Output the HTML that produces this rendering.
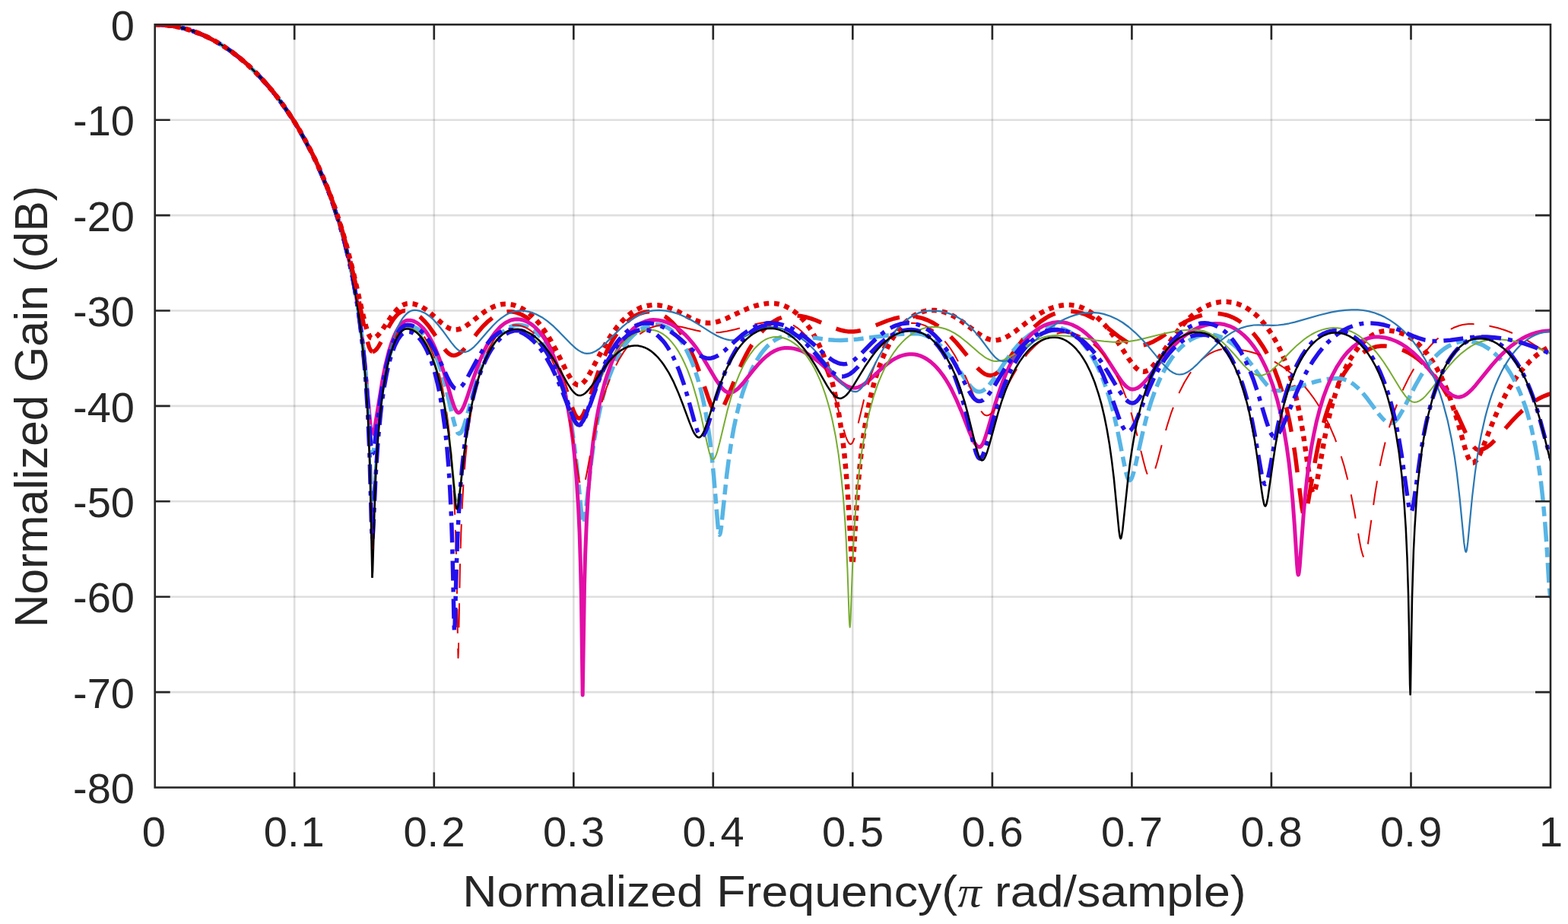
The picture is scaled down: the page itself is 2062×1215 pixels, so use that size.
<!DOCTYPE html>
<html><head><meta charset="utf-8"><title>Normalized Gain vs Normalized Frequency</title>
<style>
html,body{margin:0;padding:0;background:#fff;width:2062px;height:1215px;overflow:hidden}
svg{display:block}
text{font-family:"Liberation Sans",Arial,Helvetica,sans-serif;fill:#262626}
</style></head><body>
<svg width="2062" height="1215" viewBox="0 0 2062 1215">
<rect x="0" y="0" width="2062" height="1215" fill="#fff"/>
<defs><clipPath id="ax"><rect x="203.7" y="32.3" width="1835.3" height="1003.2"/></clipPath></defs>
<g clip-path="url(#ax)">
<path d="M387.2 32.3V1035.5M570.8 32.3V1035.5M754.3 32.3V1035.5M937.8 32.3V1035.5M1121.3 32.3V1035.5M1304.9 32.3V1035.5M1488.4 32.3V1035.5M1671.9 32.3V1035.5M1855.5 32.3V1035.5" stroke="#262626" stroke-opacity="0.15" stroke-width="2.6" fill="none"/>
<path d="M203.7 157.7H2039.0M203.7 283.1H2039.0M203.7 408.5H2039.0M203.7 533.9H2039.0M203.7 659.3H2039.0M203.7 784.7H2039.0M203.7 910.1H2039.0" stroke="#262626" stroke-opacity="0.15" stroke-width="2.6" fill="none"/>
<g fill="none" stroke-linejoin="round">
<path stroke="#e30000" stroke-width="6.5" stroke-dasharray="6.8 6.8" stroke-dashoffset="538.3" d="M489.5 444.9L491.8 444.5L494.0 443.4L496.0 441.8L498.4 439.3L502.9 433.4L514.3 416.5L518.6 411.0L521.7 407.5L524.7 404.7L528.3 402.0L531.5 400.4L534.2 399.5L538.4 399.0L544.0 399.6L549.1 401.1L554.4 403.5L559.4 406.5L564.6 410.4L580.2 424.3L586.6 429.3L589.8 431.2L592.6 432.5L595.3 433.3L598.3 433.6L601.8 433.3L605.1 432.5L608.6 431.0L611.8 429.2L618.2 424.8L630.6 414.9L637.0 410.1L643.2 406.2L648.9 403.3L654.8 401.2L661.1 399.9L667.5 399.8L673.8 400.7L677.8 401.8L682.5 403.6L686.8 405.8L691.3 408.7L696.2 412.4L700.2 415.9L704.4 420.1L708.6 424.9L716.0 434.7L720.2 441.1L724.4 448.0L731.4 460.9L745.5 489.2L750.5 497.9L753.6 502.0L756.1 504.5L758.7 506.0L761.1 506.3L763.6 505.7L766.1 504.0L768.8 501.4L771.9 497.2L777.0 488.6L790.3 463.3L797.3 450.9L804.5 439.4L811.9 429.4L819.3 421.0L823.5 417.0L827.5 413.6L831.4 410.7L835.2 408.3L839.6 405.9L843.7 404.1L850.8 402.0L857.5 401.1L865.0 401.2L872.6 402.4L879.6 404.5L886.6 407.3L893.9 410.8L908.5 418.4L916.0 421.7L920.1 423.1L923.6 424.0L927.5 424.6L931.2 424.8L935.3 424.6L939.2 424.0L943.3 423.1L948.1 421.6L956.4 418.2L975.1 409.3L983.5 405.6L992.4 402.4L1000.3 400.4L1004.8 399.6L1009.6 399.0L1014.4 398.8L1018.3 399.0L1021.8 399.4L1025.9 400.3L1030.1 401.6L1033.9 403.2L1039.0 405.9L1043.6 409.0L1048.4 412.8L1052.4 416.5L1056.4 420.8L1060.6 425.9L1064.8 431.6L1069.0 438.2L1073.2 445.6L1076.3 451.8L1080.5 460.9L1083.5 468.4L1089.5 485.4L1095.1 505.3L1099.5 524.3L1103.5 546.1L1107.3 570.9L1110.0 593.3L1111.8 611.7L1114.1 638.3L1116.4 674.2L1119.5 729.1L1120.3 739.2L1120.6 741.1L1121.0 742.1L1121.4 741.2L1121.7 739.5L1122.5 730.3L1126.1 671.6L1128.6 636.9L1130.3 617.4L1132.8 593.5L1136.4 566.8L1140.3 543.4L1144.5 522.9L1149.1 504.9L1154.9 486.2L1157.9 477.9L1161.9 467.9L1165.1 461.0L1169.2 452.8L1172.4 447.2L1176.6 440.6L1180.8 434.8L1185.0 429.7L1189.1 425.3L1194.0 420.8L1198.8 417.1L1203.3 414.2L1208.3 411.7L1213.5 409.8L1217.3 408.8L1221.3 408.1L1225.1 407.9L1229.0 408.0L1233.6 408.5L1237.6 409.3L1241.6 410.3L1245.9 411.9L1253.6 415.5L1261.8 420.5L1269.2 425.7L1284.5 437.3L1292.6 442.6L1297.2 444.9L1301.2 446.4L1305.2 447.2L1309.1 447.4L1313.2 446.9L1317.5 445.7L1321.6 444.1L1326.3 441.6L1334.2 436.3L1352.3 422.4L1360.8 416.5L1370.1 410.8L1375.1 408.2L1379.8 406.1L1385.1 404.2L1390.0 402.8L1394.9 401.8L1399.4 401.2L1404.2 401.0L1408.5 401.1L1412.9 401.7L1417.4 402.7L1421.1 403.9L1425.2 405.5L1432.4 409.4L1436.2 412.0L1440.2 415.0L1447.4 421.5L1454.8 429.4L1463.2 440.1L1470.3 450.3L1484.2 471.6L1490.5 480.0L1493.8 483.7L1497.3 486.6L1500.4 488.2L1502.0 488.6L1503.8 488.8L1506.6 488.3L1509.5 487.0L1512.8 484.6L1515.9 481.5L1518.8 478.2L1522.6 473.1L1541.0 445.8L1547.2 437.3L1552.4 430.7L1558.7 423.5L1565.0 417.2L1571.2 411.9L1577.2 407.6L1584.8 403.2L1591.7 400.2L1598.4 398.2L1605.7 396.9L1612.8 396.8L1619.6 397.5L1626.8 399.3L1633.9 402.1L1638.2 404.4L1641.9 406.6L1649.6 412.4L1653.7 416.0L1657.8 420.2L1665.1 428.9L1672.5 439.5L1678.8 450.4L1685.0 463.1L1691.0 477.6L1695.7 491.4L1699.4 503.4L1703.8 520.0L1707.1 534.3L1710.1 549.7L1713.7 570.0L1723.6 637.5L1725.4 645.5L1726.2 647.4L1727.0 648.0L1727.6 647.8L1728.1 647.1L1729.2 644.8L1731.5 635.8L1741.8 577.0L1744.9 561.3L1748.3 546.3L1750.9 535.7L1754.7 522.6L1757.5 513.5L1761.5 502.3L1765.6 492.2L1770.8 481.1L1776.1 471.5L1781.4 463.4L1786.6 456.5L1792.7 449.9L1798.5 444.9L1804.8 440.6L1808.9 438.5L1813.3 436.8L1817.7 435.6L1821.9 435.0L1826.4 434.8L1831.4 435.2L1836.4 436.2L1841.3 437.6L1846.0 439.4L1850.2 441.5L1854.8 444.2L1859.6 447.6L1864.6 451.8L1868.6 455.8L1872.8 460.3L1877.0 465.4L1883.3 474.3L1889.7 484.7L1895.8 496.6L1901.8 510.2L1907.5 525.1L1912.9 541.3L1917.9 557.9L1926.2 587.9L1929.0 596.9L1931.0 602.1L1933.0 606.1L1934.5 607.9L1935.4 608.5L1936.2 608.6L1937.4 608.5L1938.5 608.0L1940.8 606.0L1943.3 602.6L1945.7 598.0L1950.4 587.4L1961.3 559.6L1967.2 545.4L1973.6 531.4L1980.3 518.3L1985.2 509.7L1991.3 500.0L1997.6 491.3L2003.9 483.6L2012.3 474.6L2020.6 467.2L2029.7 460.6L2038.4 455.5L2047.3 451.5L2056.7 448.5L2066.2 446.7L2075.7 446.1"/>
<path stroke="#e30000" stroke-width="5.5" stroke-dasharray="33 21" stroke-dashoffset="555.3" d="M489.8 462.4L491.5 462.1L493.5 460.8L495.5 458.8L497.8 455.5L501.3 449.2L511.6 429.0L514.8 423.6L517.9 419.0L520.9 415.4L524.5 411.9L527.7 409.9L530.2 408.9L532.7 408.5L535.5 408.6L538.4 409.1L541.6 410.0L544.7 411.4L547.3 412.8L552.9 417.0L559.1 423.2L564.4 429.6L569.7 437.1L580.7 453.7L585.9 460.7L588.8 463.8L591.4 465.8L593.9 467.0L596.3 467.4L599.4 467.0L602.4 465.8L605.6 463.7L608.5 461.1L614.5 454.5L628.4 436.9L634.7 429.5L642.1 422.3L649.0 416.8L652.7 414.5L657.0 412.5L660.7 411.1L664.5 410.2L668.4 409.8L672.2 409.8L676.2 410.3L680.4 411.4L685.6 413.5L690.7 416.3L695.3 419.5L700.2 423.8L705.2 429.1L709.4 434.3L713.6 440.2L717.9 447.0L722.1 454.7L726.3 463.1L733.3 479.7L739.0 495.3L750.4 530.0L754.2 540.4L756.3 545.0L758.1 547.9L760.2 549.8L761.0 550.1L762.1 550.2L763.6 549.4L765.5 547.5L767.3 544.4L769.5 539.5L773.4 528.9L785.8 491.8L790.5 479.1L794.5 469.5L798.6 460.7L802.8 452.5L807.0 445.2L811.2 438.7L816.5 431.8L822.6 425.0L828.5 419.7L834.8 415.4L841.3 412.3L847.2 410.5L850.7 410.0L853.7 409.8L857.0 409.8L860.0 410.2L864.8 411.4L870.0 413.5L875.1 416.5L879.7 420.0L884.7 424.5L888.7 429.0L894.0 435.8L898.2 442.1L902.4 449.3L906.6 457.4L913.8 473.4L919.6 488.6L931.3 522.7L935.2 533.0L937.5 537.5L939.3 540.4L941.1 542.1L942.1 542.6L943.1 542.7L945.1 542.1L947.4 540.2L949.8 537.0L952.1 533.0L956.8 522.6L969.4 491.6L976.1 476.5L980.2 468.4L984.3 460.8L988.5 453.9L993.8 446.1L998.0 440.6L1003.2 434.6L1008.3 429.6L1013.2 425.6L1018.8 421.8L1023.9 419.0L1029.3 416.9L1034.5 415.5L1039.9 414.8L1046.1 414.9L1052.6 415.5L1059.9 417.0L1066.5 418.8L1072.5 421.0L1094.5 430.2L1102.1 433.0L1106.3 434.3L1110.7 435.3L1114.9 435.9L1118.8 436.1L1122.8 436.0L1127.0 435.5L1131.2 434.8L1136.1 433.5L1144.5 430.6L1167.5 421.5L1175.5 419.0L1182.6 417.4L1190.3 416.3L1198.4 416.1L1205.3 416.7L1212.7 418.4L1220.1 421.1L1227.5 424.8L1234.4 429.2L1241.6 434.8L1249.0 441.5L1257.5 450.4L1264.7 458.9L1279.9 477.7L1287.2 485.6L1291.4 489.3L1295.0 491.7L1298.7 493.2L1302.5 493.8L1306.0 493.2L1309.2 491.7L1312.6 489.1L1316.8 485.0L1323.1 477.0L1338.1 455.9L1345.3 446.3L1353.7 436.4L1361.1 429.0L1368.3 422.9L1376.2 417.6L1379.9 415.5L1384.3 413.4L1392.1 410.8L1396.6 409.8L1401.0 409.3L1405.5 409.1L1410.1 409.4L1414.6 410.0L1419.6 411.0L1424.5 412.5L1429.0 414.2L1437.7 418.5L1447.0 424.2L1455.5 430.3L1472.6 443.6L1480.5 448.9L1485.1 451.4L1489.1 453.0L1493.3 454.0L1497.3 454.4L1501.9 454.1L1506.6 453.2L1511.3 451.6L1516.7 449.2L1525.6 444.1L1544.9 431.4L1553.3 426.2L1562.6 421.2L1571.4 417.4L1581.0 414.4L1590.1 412.8L1594.6 412.4L1599.3 412.3L1603.5 412.5L1607.5 413.1L1612.5 414.2L1617.7 415.9L1622.6 418.1L1627.1 420.5L1631.7 423.5L1636.6 427.1L1641.6 431.6L1645.8 435.8L1649.9 440.5L1654.2 445.9L1661.6 456.9L1665.8 464.2L1668.9 470.2L1673.0 478.9L1676.0 486.0L1681.9 501.8L1686.5 516.6L1691.8 536.6L1695.9 555.2L1699.7 575.6L1703.1 597.4L1712.0 667.0L1713.7 675.7L1714.5 677.6L1715.1 678.1L1715.6 677.9L1716.1 677.3L1717.2 674.9L1719.3 666.1L1729.2 607.5L1733.0 587.8L1736.3 572.9L1739.8 558.9L1743.5 546.0L1747.4 534.2L1751.4 523.4L1756.5 511.4L1761.7 500.9L1767.0 491.8L1773.3 482.5L1779.6 475.0L1786.6 468.2L1793.3 463.2L1800.2 459.3L1804.1 457.6L1808.3 456.3L1812.3 455.4L1816.2 455.0L1820.7 454.9L1825.8 455.3L1830.7 456.0L1835.3 457.0L1839.8 458.3L1844.7 460.2L1849.1 462.2L1853.7 464.6L1858.5 467.6L1862.5 470.4L1867.6 474.4L1871.7 478.0L1878.0 484.3L1884.4 491.5L1890.6 499.8L1896.9 508.9L1903.9 520.7L1910.6 533.4L1917.0 546.5L1928.1 570.7L1932.7 579.8L1935.6 584.5L1938.6 588.3L1941.0 590.4L1943.4 591.5L1945.1 591.6L1947.3 591.3L1951.5 590.0L1955.5 587.8L1960.3 584.2L1964.1 580.6L1968.3 576.3L1987.3 554.7L1996.7 544.9L2002.0 539.9L2007.2 535.4L2016.5 528.5L2021.5 525.4L2026.4 522.8L2031.8 520.3L2036.9 518.4L2042.3 516.9L2046.9 516.0L2052.2 515.3L2057.4 515.1"/>
<path stroke="#57b5e6" stroke-width="5.5" stroke-dasharray="26 7.5 13 7.5" stroke-dashoffset="686.4" d="M489.5 596.6L490.3 595.7L491.0 594.0L492.8 584.7L500.0 530.4L503.7 506.9L507.8 486.3L512.0 469.3L514.1 462.2L517.3 453.1L520.4 445.8L523.4 440.2L526.3 435.9L529.7 432.2L533.2 429.7L534.9 429.0L536.9 428.6L541.0 428.9L545.6 430.3L549.3 432.5L553.6 435.9L558.4 441.1L562.4 446.7L566.5 453.8L569.7 460.1L572.9 467.4L576.0 475.5L579.1 484.6L582.2 494.5L587.0 512.4L595.9 550.7L599.0 562.1L601.4 568.1L602.4 569.6L603.7 570.3L605.2 569.7L606.6 568.1L608.4 564.7L610.0 560.6L613.1 550.3L621.0 521.2L625.6 505.4L630.5 490.5L634.6 479.6L638.8 469.9L644.1 459.3L649.4 450.5L654.6 443.5L657.6 440.1L661.5 436.3L664.2 434.1L667.7 431.7L671.6 429.7L675.0 428.4L678.3 427.6L681.8 427.3L685.7 427.5L689.1 428.2L693.0 429.4L696.7 431.2L700.0 433.2L703.5 435.9L707.3 439.3L710.2 442.4L715.3 448.8L720.5 456.8L725.8 466.7L730.0 476.1L734.2 487.0L738.2 499.4L742.2 513.4L745.0 525.2L747.7 538.0L750.3 552.0L754.3 577.9L758.5 612.6L764.6 675.2L765.8 684.4L766.5 687.2L767.1 688.1L767.7 687.6L768.3 685.9L769.7 677.5L775.4 625.5L777.9 604.3L781.4 578.9L785.4 555.7L789.7 535.1L792.4 523.9L795.2 513.5L798.2 504.0L801.2 495.2L807.3 479.7L810.5 473.0L814.7 464.9L818.9 457.9L823.1 451.8L827.2 446.6L832.3 441.2L837.1 436.9L841.7 433.6L846.7 430.7L851.9 428.6L856.8 427.3L861.9 426.7L866.3 426.9L870.8 427.8L875.6 429.7L879.6 431.9L883.1 434.5L885.9 436.9L891.7 443.2L894.7 447.2L897.9 451.8L903.1 461.0L908.4 472.2L912.6 482.8L917.7 498.4L921.6 512.9L925.4 529.4L928.1 543.1L931.4 563.5L933.8 580.4L935.9 598.6L938.5 624.6L944.2 692.7L945.2 700.9L945.6 702.5L946.1 703.2L946.7 702.5L947.3 700.5L948.4 693.7L955.8 623.8L958.6 602.3L961.6 582.2L964.8 563.8L968.3 547.1L972.0 532.1L976.9 515.5L982.0 501.2L985.1 493.6L988.2 486.6L994.5 474.7L1000.8 465.1L1003.9 461.1L1007.9 456.5L1010.9 453.6L1014.7 450.4L1018.3 447.7L1022.5 445.3L1026.3 443.5L1030.3 442.2L1033.6 441.5L1037.3 441.1L1048.4 441.4L1059.9 442.6L1088.4 446.6L1097.5 447.3L1105.8 447.4L1116.7 447.0L1128.2 446.0L1168.1 440.9L1185.6 439.2L1195.5 438.7L1204.8 438.6L1209.2 439.0L1213.4 439.9L1219.3 442.0L1225.5 445.4L1232.2 450.3L1238.4 456.0L1244.7 463.1L1251.1 471.3L1257.3 480.3L1269.7 499.3L1275.4 507.0L1278.9 510.8L1281.8 513.2L1285.0 514.7L1287.8 515.1L1290.6 514.6L1293.6 513.1L1296.4 511.0L1299.7 507.7L1305.9 499.7L1322.7 474.4L1332.0 461.7L1337.3 455.4L1342.6 449.9L1347.7 445.1L1352.8 441.1L1358.5 437.2L1364.7 434.0L1370.3 431.9L1376.2 430.5L1382.1 429.8L1388.1 430.1L1394.0 431.1L1399.6 433.0L1406.2 436.3L1412.6 440.7L1418.5 445.8L1424.7 452.4L1430.9 460.6L1436.2 468.8L1441.5 478.4L1446.7 489.4L1450.7 499.3L1454.7 510.1L1458.5 521.9L1462.2 534.7L1465.6 548.3L1469.6 566.2L1480.2 619.2L1481.6 624.3L1483.0 628.7L1484.1 630.8L1484.8 631.5L1485.5 631.7L1486.2 631.5L1486.8 631.0L1488.2 628.7L1489.7 624.7L1491.1 620.2L1493.7 609.3L1503.4 565.7L1507.6 549.3L1511.1 536.8L1513.9 527.9L1517.8 516.8L1521.8 506.6L1525.9 497.2L1531.1 486.8L1536.4 477.7L1541.6 469.8L1547.9 461.9L1554.1 455.6L1559.9 450.6L1566.4 446.3L1573.0 443.1L1578.7 441.2L1583.7 440.2L1589.3 439.9L1594.8 440.2L1600.2 441.3L1605.5 443.1L1610.6 445.5L1616.3 448.9L1621.2 452.5L1626.4 457.0L1630.6 461.1L1635.9 467.0L1644.3 477.5L1659.8 498.6L1665.5 505.6L1668.5 508.5L1671.1 510.7L1673.9 512.4L1676.1 513.4L1678.8 513.8L1683.7 513.7L1689.0 513.2L1695.2 512.1L1705.3 509.5L1731.3 501.5L1739.0 499.7L1745.9 498.5L1753.9 497.7L1760.9 497.6L1766.2 498.4L1771.3 500.1L1775.6 502.3L1780.3 505.5L1785.3 509.8L1789.5 513.9L1793.7 518.8L1798.0 524.1L1813.0 544.4L1818.8 551.0L1821.6 553.5L1824.1 555.1L1826.5 556.1L1829.1 556.5L1831.4 556.1L1834.1 554.5L1836.7 551.9L1839.7 547.9L1845.4 538.0L1860.6 508.2L1868.6 494.0L1873.9 485.9L1878.1 480.0L1883.3 473.5L1888.5 467.8L1893.6 463.0L1899.5 458.4L1905.1 454.9L1911.0 452.1L1916.9 450.1L1923.1 448.9L1929.0 448.6L1935.1 449.2L1940.5 450.3L1946.3 452.3L1951.3 454.6L1956.6 457.8L1962.4 462.0L1967.3 466.4L1972.5 471.7L1976.6 476.7L1981.9 483.9L1986.1 490.5L1990.3 497.9L1994.5 506.1L1998.6 515.3L2001.6 522.9L2005.6 533.9L2008.5 542.9L2013.9 563.0L2019.0 586.4L2022.9 608.8L2026.5 634.1L2029.0 656.8L2031.8 688.0L2033.8 714.7L2037.0 767.7L2038.4 782.6L2038.9 784.7L2039.6 784.8L2040.6 785.4L2042.1 787.3L2043.9 791.3L2044.9 794.3L2048.2 807.5L2054.3 839.9L2055.7 845.2L2056.8 847.1L2057.4 847.4"/>
<path stroke="#e20ea6" stroke-width="5.0" d="M489.5 571.5L490.3 570.9L491.0 569.5L492.8 562.4L503.0 499.6L507.0 479.6L511.2 462.6L515.5 449.1L517.6 443.6L520.7 436.7L523.7 431.4L526.5 427.5L529.0 424.8L532.0 422.5L533.8 421.7L535.7 421.2L539.6 421.2L542.0 421.7L544.5 422.5L549.0 424.9L553.3 428.4L557.1 432.3L561.2 437.6L565.3 444.1L569.6 452.1L572.8 459.1L576.0 466.9L579.1 475.4L584.1 490.7L593.6 523.7L597.0 534.0L598.7 538.1L600.2 540.6L601.7 542.2L602.9 542.7L603.8 542.6L604.8 542.1L606.7 540.1L608.7 536.7L610.5 532.9L613.9 523.7L622.2 498.5L627.0 484.8L632.0 471.9L637.2 460.3L641.4 452.1L646.7 443.4L651.9 436.3L656.8 430.8L659.7 428.2L663.3 425.4L666.6 423.4L669.6 421.9L672.9 420.7L676.5 420.0L679.9 419.8L683.5 420.0L687.1 420.7L690.3 421.8L694.0 423.5L697.3 425.4L700.8 427.9L703.6 430.3L707.4 434.2L710.5 437.7L714.6 443.2L717.7 448.0L721.9 455.5L725.1 461.9L728.3 469.1L731.4 477.1L736.6 492.4L741.5 510.5L746.1 531.9L750.4 557.1L753.6 580.7L756.4 608.0L758.3 631.5L760.6 668.0L762.1 700.4L763.3 738.3L764.4 783.5L766.2 913.9L768.5 769.9L769.6 730.2L771.4 686.0L773.5 649.5L776.6 611.5L780.1 580.0L784.1 553.4L786.7 539.3L789.4 526.5L792.2 514.8L795.0 504.1L798.0 494.3L802.1 482.7L805.2 474.8L809.4 465.5L813.6 457.3L817.9 450.3L822.1 444.2L827.2 437.9L832.2 432.8L837.8 428.3L842.9 425.1L848.3 422.7L853.8 421.1L859.2 420.5L865.4 420.9L871.8 422.1L877.9 424.2L883.9 427.1L889.6 430.6L895.5 435.1L900.7 439.8L905.9 445.3L911.2 451.6L916.5 458.6L924.8 471.1L941.4 499.0L947.5 507.9L950.7 511.7L953.4 514.1L956.1 515.7L958.4 516.3L961.4 516.1L964.6 515.1L967.6 513.2L971.3 510.2L977.2 503.8L990.0 487.5L996.4 479.9L1002.7 473.1L1007.9 468.5L1012.9 464.7L1018.4 461.5L1023.3 459.4L1028.7 457.9L1032.0 457.5L1035.8 457.4L1040.0 457.7L1044.2 458.4L1048.5 459.5L1052.6 460.8L1057.0 462.7L1060.8 464.7L1068.9 469.7L1077.3 476.2L1084.7 482.9L1100.7 498.1L1107.7 503.9L1111.5 506.4L1115.5 508.4L1118.7 509.5L1122.2 510.0L1125.7 509.9L1129.0 509.1L1132.9 507.3L1136.7 505.0L1143.8 499.2L1158.0 485.9L1165.4 479.5L1172.6 474.2L1176.5 471.8L1180.3 469.9L1183.7 468.4L1187.7 467.1L1191.6 466.2L1195.6 465.8L1199.3 465.7L1203.0 466.0L1206.9 466.8L1210.3 467.9L1215.0 470.0L1219.3 472.5L1224.0 475.9L1227.9 479.3L1232.0 483.5L1236.2 488.4L1240.4 494.0L1243.6 498.8L1247.8 505.8L1251.0 511.5L1258.1 526.4L1264.0 540.2L1275.0 568.5L1279.2 577.9L1281.5 582.3L1284.0 585.6L1285.9 587.2L1288.0 587.8L1289.5 587.3L1291.1 585.6L1292.7 582.9L1294.6 578.4L1298.6 566.1L1309.1 530.0L1315.4 510.9L1319.2 500.6L1323.1 491.0L1327.2 482.0L1331.3 473.7L1335.5 466.2L1340.8 457.9L1345.1 452.1L1350.3 445.7L1355.5 440.4L1361.4 435.3L1367.1 431.3L1372.3 428.4L1378.6 425.9L1385.0 424.2L1391.3 423.6L1397.6 423.8L1403.9 425.0L1409.9 427.0L1415.9 429.9L1422.5 434.0L1428.5 438.7L1433.6 443.5L1438.9 449.0L1444.1 455.4L1452.5 466.8L1470.4 494.7L1474.4 500.5L1477.3 504.2L1480.6 507.7L1483.4 509.9L1486.4 511.5L1489.3 512.0L1492.6 511.5L1496.0 510.1L1499.3 507.9L1503.2 504.4L1510.1 496.6L1529.7 470.6L1540.1 458.2L1546.4 451.6L1551.7 446.6L1557.9 441.5L1564.0 437.2L1570.8 433.2L1577.0 430.3L1584.3 427.8L1591.0 426.3L1597.8 425.6L1604.5 425.8L1610.7 426.8L1617.0 428.8L1621.8 431.0L1626.2 433.6L1630.9 436.8L1635.7 440.9L1640.8 445.9L1644.9 450.7L1649.1 456.1L1653.3 462.3L1657.6 469.4L1660.7 475.3L1664.9 483.9L1668.0 491.0L1674.0 507.2L1679.7 526.0L1684.2 544.1L1688.4 564.7L1692.2 588.0L1695.1 609.0L1697.6 632.1L1699.9 657.4L1702.4 691.0L1705.6 742.2L1706.5 752.4L1707.0 755.2L1707.4 755.9L1707.7 755.3L1708.2 753.0L1709.2 744.4L1714.5 672.6L1716.8 647.7L1718.7 630.1L1721.4 608.5L1724.4 588.9L1727.7 571.2L1731.1 555.2L1735.7 537.4L1740.5 521.8L1745.6 508.2L1751.8 494.1L1758.1 482.3L1764.4 472.6L1767.5 468.4L1771.7 463.4L1778.7 456.5L1785.3 451.4L1792.2 447.4L1798.9 444.8L1805.7 443.3L1809.3 443.0L1813.2 443.0L1821.2 443.9L1829.0 446.0L1836.7 449.0L1843.3 452.5L1850.3 457.2L1857.5 462.9L1863.8 468.8L1870.2 475.4L1876.4 482.5L1897.3 508.3L1901.3 512.7L1904.9 516.2L1908.7 519.1L1912.0 520.9L1915.5 522.0L1919.0 522.2L1922.3 521.5L1925.5 520.2L1928.8 518.1L1932.7 514.8L1936.4 511.2L1940.3 506.8L1961.7 480.4L1967.9 473.4L1974.2 466.7L1981.6 459.7L1987.9 454.4L1994.1 449.9L2001.1 445.5L2007.8 442.0L2014.9 439.1L2021.3 437.1L2028.0 435.7L2036.0 434.9L2046.4 434.7L2066.5 433.8L2075.7 433.6"/>
<path stroke="#e30000" stroke-width="2.0" stroke-dasharray="32 20" stroke-dashoffset="811.5" d="M489.5 722.0L489.9 719.9L490.3 712.1L493.5 632.4L496.3 584.1L497.8 563.2L499.6 544.6L501.4 527.9L504.3 506.2L507.4 488.2L510.5 473.2L513.7 461.0L518.0 448.5L522.1 439.6L525.8 433.8L528.3 430.9L530.5 429.1L532.4 428.1L534.7 427.4L538.3 427.5L542.5 428.6L546.0 430.5L550.1 433.6L553.8 437.3L557.7 442.4L561.8 449.0L564.9 455.1L568.1 462.4L571.3 470.8L574.5 480.6L576.6 487.9L579.7 500.1L581.7 509.2L584.6 524.4L586.5 535.7L590.0 561.4L592.4 583.9L595.2 619.4L597.1 651.2L598.7 688.7L600.1 733.5L601.1 786.1L602.1 850.1L602.5 865.0L602.9 855.5L605.0 742.2L606.3 700.9L607.8 665.7L609.5 635.5L612.2 601.2L615.2 572.4L616.8 559.7L619.4 542.3L624.0 517.5L628.9 497.0L632.0 486.4L635.1 477.1L638.3 468.8L641.4 461.5L644.6 455.2L648.8 448.1L651.8 443.6L655.7 438.8L659.4 435.1L663.7 431.7L667.5 429.6L671.9 428.0L675.4 427.4L679.0 427.4L682.7 427.8L686.8 428.9L690.3 430.2L694.3 432.3L697.7 434.6L701.4 437.5L705.3 441.2L708.2 444.5L714.4 452.6L720.7 463.0L723.9 469.2L727.0 476.0L732.2 488.9L736.3 500.7L741.1 517.5L744.8 532.5L748.2 548.8L751.5 566.2L761.7 631.4L763.5 639.0L764.5 641.2L765.3 641.7L766.3 641.1L767.3 639.5L768.6 635.8L769.8 631.3L772.1 620.0L778.1 587.3L781.7 569.0L785.7 551.2L789.1 537.7L792.7 525.1L797.4 510.5L802.3 497.4L807.4 485.8L813.6 473.6L820.0 463.2L826.3 454.5L833.5 446.4L837.6 442.6L841.5 439.3L845.3 436.6L848.9 434.3L852.4 432.4L856.4 430.7L860.8 429.2L864.6 428.2L869.1 427.5L873.3 427.3L879.1 427.5L885.6 428.1L896.8 430.0L915.6 434.5L922.4 435.9L930.4 437.0L937.8 437.3L946.9 436.9L956.1 435.5L966.4 433.2L986.2 427.9L995.5 425.7L1004.9 423.9L1014.3 422.7L1024.5 422.3L1030.8 422.9L1034.4 423.8L1037.9 425.0L1044.4 428.3L1048.9 431.3L1053.7 435.3L1058.8 440.3L1062.9 445.2L1067.1 450.8L1071.3 457.3L1075.6 464.7L1079.8 473.0L1083.9 482.2L1086.9 489.6L1093.7 508.8L1099.1 526.6L1108.9 563.0L1112.4 574.5L1113.9 578.3L1115.6 581.6L1117.2 583.5L1118.5 584.1L1119.3 583.9L1120.0 583.4L1121.3 581.6L1122.5 578.9L1124.0 574.7L1126.9 564.0L1136.0 525.9L1140.6 509.1L1146.4 490.4L1149.5 482.0L1153.6 471.8L1156.8 464.9L1161.0 456.8L1165.2 449.8L1169.4 443.9L1173.5 439.0L1178.3 434.2L1182.8 430.7L1187.7 427.8L1190.6 426.6L1193.8 425.6L1199.4 424.8L1202.8 424.9L1206.3 425.3L1213.0 426.9L1216.8 428.3L1220.1 429.9L1226.4 433.7L1233.3 439.1L1239.4 445.1L1244.7 451.3L1250.0 458.5L1255.3 466.8L1260.5 476.0L1268.5 492.3L1283.3 526.8L1286.2 533.1L1288.7 538.0L1291.0 541.7L1293.4 544.5L1295.3 545.8L1297.4 546.4L1299.6 546.1L1302.2 544.7L1304.7 542.4L1307.6 538.8L1313.2 529.8L1328.9 499.6L1333.9 490.7L1339.0 482.3L1345.2 473.1L1350.5 466.2L1355.8 460.2L1362.0 454.1L1368.0 449.1L1374.6 444.7L1380.7 441.6L1387.6 439.1L1394.2 437.8L1400.9 437.3L1407.9 437.9L1414.7 439.5L1418.5 440.8L1422.5 442.5L1429.6 446.5L1436.3 451.3L1443.3 457.7L1449.5 464.5L1455.9 472.7L1462.2 482.5L1467.4 491.8L1472.5 502.3L1476.5 511.5L1480.4 521.5L1484.1 532.2L1488.6 546.5L1492.7 561.5L1503.8 606.8L1506.4 616.5L1508.1 621.9L1509.6 625.2L1511.0 627.3L1512.4 627.9L1513.8 627.5L1515.3 625.8L1516.8 622.8L1518.7 618.0L1522.1 606.7L1529.9 577.1L1535.0 559.3L1540.4 542.3L1546.3 526.8L1551.3 515.1L1557.6 502.8L1563.9 492.4L1570.2 483.7L1574.3 478.9L1578.4 474.7L1582.4 471.1L1586.2 468.2L1589.8 465.7L1594.1 463.3L1598.1 461.6L1602.3 460.2L1606.5 459.2L1610.4 458.8L1615.0 458.7L1621.0 458.9L1633.1 460.3L1639.4 461.5L1645.6 463.0L1652.3 465.0L1659.4 467.6L1666.0 470.4L1672.8 473.8L1679.8 477.8L1686.0 481.8L1692.2 486.3L1698.5 491.4L1704.8 497.1L1710.1 502.3L1716.4 509.2L1721.6 515.5L1726.7 522.3L1731.8 529.7L1736.7 537.6L1740.6 544.4L1748.2 559.3L1755.3 575.9L1762.0 594.5L1767.5 612.3L1772.5 631.6L1777.1 652.1L1780.6 670.3L1787.8 711.1L1789.9 722.1L1792.2 730.3L1793.3 732.6L1794.3 733.3L1795.2 732.7L1796.2 730.2L1798.2 720.3L1808.1 650.1L1811.4 630.0L1815.0 610.9L1818.9 592.9L1823.0 576.0L1827.4 560.4L1832.9 543.1L1838.7 527.3L1845.7 510.8L1853.0 496.0L1861.3 481.3L1869.8 468.7L1878.1 458.1L1882.2 453.5L1887.2 448.3L1895.9 440.8L1903.9 435.1L1911.9 430.8L1919.5 428.0L1923.5 427.0L1927.2 426.4L1931.2 426.1L1936.2 426.1L1947.9 426.9L1959.1 428.7L1969.9 431.3L1980.1 434.5L1990.0 438.4L2000.2 443.3L2009.6 448.4L2018.0 453.5L2027.4 459.7L2060.2 483.0L2066.0 486.7L2071.3 489.8L2077.5 492.7L2083.3 494.7L2088.7 495.9L2094.1 496.3"/>
<path stroke="#77ac30" stroke-width="2.0" d="M489.5 659.3L490.1 657.8L491.0 650.2L495.5 588.1L498.7 552.3L502.3 521.4L506.3 496.2L508.4 485.6L511.6 472.0L514.8 460.9L518.0 452.0L521.1 445.1L524.9 438.7L528.3 434.6L530.5 432.8L532.4 431.8L535.0 431.1L537.6 431.2L540.8 431.8L544.0 433.1L547.0 435.0L549.5 436.9L552.2 439.6L555.0 442.9L560.0 450.3L565.3 460.4L569.5 470.8L573.8 483.3L577.9 498.4L580.9 511.3L583.8 525.9L586.6 542.0L589.1 559.8L591.5 578.8L598.6 647.9L599.9 656.8L600.4 658.5L601.0 659.3L601.8 658.6L602.5 656.3L603.9 648.7L611.3 587.7L614.3 566.0L616.8 550.7L619.5 536.4L622.3 523.3L625.2 511.3L628.2 500.4L632.3 487.6L636.5 476.5L640.7 467.1L644.9 459.2L650.1 451.3L655.0 445.2L660.6 440.0L663.1 438.2L666.2 436.3L671.5 434.3L674.4 433.8L677.0 433.6L679.9 433.7L683.1 434.2L688.9 436.0L694.6 439.0L700.0 443.1L705.9 448.8L711.1 455.0L716.4 462.8L720.6 470.0L724.9 478.2L729.0 487.3L736.0 504.9L748.8 542.0L752.8 552.0L754.4 555.3L756.3 558.1L758.2 559.7L759.8 560.2L761.8 559.7L764.0 557.9L766.4 554.5L768.7 550.3L772.7 541.2L783.5 513.7L788.2 502.3L793.1 491.3L798.2 481.2L802.4 473.8L807.7 465.5L811.9 459.7L817.1 453.4L824.2 446.4L830.8 441.3L834.4 439.1L837.7 437.4L844.3 435.0L847.9 434.2L851.5 433.7L855.2 433.6L858.4 433.9L861.5 434.5L864.7 435.5L867.6 436.8L870.9 438.6L875.3 441.8L880.0 446.1L884.0 450.6L888.2 456.0L892.4 462.4L896.6 470.0L900.8 478.8L904.0 486.1L908.1 497.1L911.1 506.0L916.9 525.9L921.3 543.8L930.1 584.1L932.8 595.1L934.2 599.4L935.4 602.0L936.5 603.6L937.6 604.1L939.0 603.5L940.3 601.7L941.9 597.9L943.4 593.2L946.4 581.9L956.5 539.9L961.1 523.4L965.0 511.2L968.1 502.7L972.2 492.3L976.4 483.1L980.6 475.1L985.9 466.6L992.0 458.6L997.9 452.7L1000.6 450.4L1004.1 448.0L1007.3 446.2L1010.3 444.9L1013.5 443.9L1016.6 443.3L1019.7 443.0L1023.0 443.1L1026.4 443.5L1029.8 444.2L1034.7 445.9L1039.4 448.2L1044.7 451.6L1049.5 455.4L1054.4 460.3L1058.5 465.0L1062.7 470.6L1066.9 477.1L1071.2 484.5L1074.3 490.8L1078.5 500.2L1081.6 508.0L1085.7 519.6L1088.6 529.3L1091.5 539.8L1094.3 551.3L1098.7 572.7L1102.7 597.7L1106.3 626.7L1108.9 653.6L1111.2 684.2L1112.7 709.9L1114.4 747.2L1116.7 812.6L1117.3 822.2L1117.7 824.8L1118.0 822.8L1118.5 815.3L1120.9 749.1L1122.9 705.6L1124.9 674.4L1127.1 646.6L1130.3 616.3L1133.8 590.1L1137.7 567.3L1142.8 543.6L1148.3 523.3L1151.2 514.3L1155.1 503.2L1159.2 493.3L1163.3 484.4L1167.5 476.3L1171.7 469.2L1175.9 462.8L1181.1 455.9L1186.3 450.1L1191.3 445.2L1196.2 441.3L1201.8 437.5L1206.9 434.7L1212.4 432.5L1216.5 431.2L1221.1 430.3L1225.5 429.9L1230.1 429.9L1234.2 430.3L1238.7 431.2L1243.4 432.5L1247.7 434.2L1255.4 438.2L1263.6 443.7L1272.1 450.5L1288.2 464.5L1295.2 469.8L1299.1 472.0L1303.0 473.7L1306.6 474.7L1310.0 475.0L1313.2 474.8L1316.8 474.1L1320.1 473.1L1323.9 471.5L1331.9 466.9L1350.3 454.4L1359.7 448.8L1364.7 446.4L1370.2 444.2L1375.2 442.7L1380.1 441.7L1384.3 441.2L1388.6 441.1L1403.1 441.8L1416.2 443.3L1441.3 447.4L1451.8 448.8L1463.6 449.7L1474.4 449.8L1484.5 449.0L1495.3 447.2L1504.9 445.0L1531.0 438.6L1546.7 435.5L1555.1 434.4L1563.1 433.8L1571.5 433.6L1576.6 434.0L1583.0 435.3L1589.4 437.7L1595.8 441.1L1601.8 445.2L1608.0 450.3L1615.3 457.4L1621.6 464.2L1635.4 480.0L1642.3 486.9L1646.0 489.8L1649.8 492.1L1653.2 493.4L1656.5 493.8L1660.2 493.4L1664.0 492.1L1667.8 490.2L1672.1 487.1L1679.6 480.3L1697.4 462.0L1705.8 453.9L1715.3 446.0L1719.4 443.1L1724.4 440.0L1729.2 437.4L1733.7 435.4L1738.7 433.6L1743.9 432.3L1748.7 431.5L1753.4 431.1L1758.1 431.2L1762.7 431.7L1767.6 432.7L1772.8 434.3L1777.8 436.3L1782.3 438.7L1787.1 441.6L1792.0 445.2L1797.1 449.6L1801.3 453.6L1809.8 463.0L1814.0 468.3L1819.2 475.5L1827.3 487.9L1841.7 511.6L1847.7 520.1L1850.9 523.9L1854.2 526.7L1856.8 528.2L1859.7 528.9L1863.3 528.5L1866.7 527.1L1870.7 524.4L1874.7 520.6L1881.9 512.2L1896.8 492.2L1905.0 481.9L1913.4 472.5L1921.8 464.6L1930.0 458.3L1933.9 455.7L1938.6 453.0L1943.1 450.9L1947.3 449.3L1955.2 447.2L1959.6 446.5L1963.8 446.1L1974.8 446.4L1986.1 447.7L1998.0 450.1L2009.6 453.4L2020.9 457.3L2031.4 461.6L2056.0 472.1L2068.7 476.8L2075.8 478.9L2081.9 480.2L2087.8 480.9L2094.1 481.2"/>
<path stroke="#2a78b4" stroke-width="2.2" d="M489.5 659.3L489.8 658.8L490.2 657.0L491.1 648.7L495.8 581.3L499.6 539.9L501.3 525.2L504.0 505.2L505.9 493.3L508.9 477.4L512.0 463.7L516.2 448.4L519.4 439.0L523.6 429.0L525.7 424.9L528.6 419.9L530.5 417.2L533.3 414.0L535.8 411.6L538.0 410.0L540.6 408.7L542.6 408.1L544.9 407.9L548.0 408.0L551.1 408.6L553.8 409.4L559.5 412.1L565.1 416.0L570.1 420.5L576.4 427.5L581.7 434.2L593.7 450.6L598.8 456.8L601.8 459.6L604.4 461.4L607.0 462.6L609.4 463.0L612.4 462.8L615.7 461.7L618.8 459.8L622.5 456.9L628.5 450.8L641.4 435.7L647.7 428.7L654.0 422.5L659.1 418.3L665.0 414.3L670.2 411.6L676.3 409.5L682.0 408.6L685.6 408.5L689.5 408.8L696.9 410.2L700.8 411.4L705.1 413.2L712.6 417.2L719.7 422.2L728.1 429.2L735.4 436.4L750.3 451.8L757.2 458.1L761.0 460.9L765.0 463.1L768.1 464.3L771.6 464.9L775.3 464.7L779.4 463.6L783.7 461.5L788.2 458.5L795.9 451.9L811.7 436.1L818.0 430.2L825.4 424.0L832.6 418.8L839.5 414.7L845.9 411.8L852.3 409.6L858.7 408.3L866.4 407.9L875.4 408.6L884.2 410.4L893.2 413.3L901.0 416.7L909.3 421.0L917.8 426.1L935.1 437.1L943.3 441.7L947.4 443.6L951.8 445.3L955.6 446.4L959.2 447.1L962.8 447.4L966.1 447.2L969.6 446.6L972.6 445.6L979.1 442.7L993.8 434.5L998.7 432.3L1003.1 430.9L1007.3 430.1L1011.1 429.8L1016.8 430.1L1022.2 430.8L1027.0 431.9L1031.6 433.2L1036.7 435.2L1041.2 437.3L1049.9 442.3L1055.0 445.9L1059.2 449.1L1067.6 456.7L1077.1 466.7L1085.3 476.6L1102.2 498.2L1106.2 503.0L1110.0 507.0L1114.0 510.6L1118.0 513.2L1121.5 514.6L1125.0 515.1L1127.5 514.6L1130.4 512.7L1133.0 510.0L1136.2 505.7L1141.3 497.0L1154.5 471.3L1162.5 457.0L1170.9 444.1L1175.1 438.4L1179.3 433.2L1183.5 428.6L1188.7 423.7L1192.7 420.4L1197.5 417.0L1202.0 414.3L1207.1 411.9L1212.3 410.1L1217.2 409.1L1222.5 408.5L1228.8 408.6L1235.1 409.2L1241.1 410.2L1247.1 411.9L1252.8 414.0L1257.7 416.3L1262.9 419.4L1268.1 423.1L1272.4 426.6L1276.6 430.5L1280.8 434.9L1288.9 444.5L1303.1 463.4L1308.2 469.2L1310.7 471.5L1313.3 473.4L1315.8 474.5L1318.4 475.0L1323.0 474.5L1327.4 473.2L1331.7 471.3L1336.8 468.2L1340.8 465.3L1346.0 461.1L1366.6 442.7L1377.1 434.1L1383.4 429.4L1388.7 426.0L1394.8 422.3L1400.8 419.3L1407.3 416.5L1413.4 414.4L1419.7 412.8L1426.2 411.6L1432.7 411.1L1439.2 411.1L1445.4 411.7L1451.3 412.9L1460.1 415.7L1468.3 419.4L1476.2 424.0L1484.4 430.0L1492.8 437.3L1502.3 446.8L1510.6 456.1L1527.5 476.4L1534.7 484.0L1538.8 487.6L1543.0 490.3L1547.1 492.0L1551.0 492.5L1554.5 492.2L1557.7 491.2L1561.2 489.6L1565.3 486.9L1569.1 483.8L1573.4 479.9L1594.9 457.7L1601.2 451.6L1606.5 447.0L1612.8 442.1L1619.9 437.4L1626.7 433.8L1633.0 431.1L1640.7 428.8L1648.8 427.5L1655.2 427.3L1674.2 427.9L1680.8 427.5L1688.1 426.6L1695.3 425.3L1702.6 423.6L1735.4 414.2L1751.4 410.4L1760.4 408.9L1768.8 407.9L1777.7 407.3L1785.7 407.3L1792.8 408.0L1800.3 409.4L1807.9 411.5L1814.6 414.1L1821.0 417.1L1827.6 420.9L1834.6 425.7L1840.8 430.6L1847.0 436.4L1852.3 441.8L1858.6 449.3L1863.9 456.3L1869.1 464.2L1874.2 472.8L1879.2 482.3L1883.2 490.6L1887.0 499.6L1890.7 509.3L1894.4 519.7L1897.8 530.9L1903.6 552.6L1908.8 577.3L1912.9 601.1L1915.9 622.7L1919.6 655.0L1925.3 713.9L1926.7 723.2L1927.3 725.2L1927.8 725.8L1928.4 724.9L1929.0 722.6L1930.3 712.9L1936.0 653.7L1939.7 622.3L1943.1 598.1L1947.8 572.2L1952.9 549.4L1955.6 539.2L1959.3 526.6L1962.2 517.9L1966.2 507.3L1970.3 497.7L1974.4 489.1L1978.6 481.3L1983.9 472.8L1988.1 466.8L1993.4 460.3L1998.5 454.8L2003.6 450.3L2009.3 445.9L2014.8 442.6L2019.0 440.5L2023.6 438.7L2027.7 437.5L2032.3 436.6L2036.4 436.2L2048.2 435.7L2067.4 433.9L2075.7 433.6"/>
<path stroke="#2210ec" stroke-width="5.5" stroke-dasharray="26 9 6 9" stroke-dashoffset="686.4" d="M489.5 596.6L489.9 596.4L490.3 595.6L491.0 593.4L492.4 586.2L499.6 530.0L503.3 505.2L507.4 483.8L511.6 466.4L513.7 459.2L516.9 450.1L520.1 442.9L523.0 437.5L525.8 433.5L529.1 430.1L532.4 428.0L535.3 427.3L538.8 427.5L542.0 428.2L545.4 429.6L548.6 431.4L552.1 434.0L554.9 436.5L557.9 439.7L560.9 443.4L566.2 451.0L572.5 462.2L577.7 472.8L588.0 495.5L591.9 503.1L594.0 506.3L596.3 509.2L598.2 510.6L600.4 511.3L602.6 511.0L604.8 509.8L607.0 507.9L609.7 504.6L614.4 497.1L627.9 471.9L635.3 459.6L639.5 453.6L643.7 448.4L647.8 444.1L651.6 440.7L656.1 437.6L660.1 435.6L664.7 434.2L669.1 433.6L674.2 433.9L679.8 435.0L684.8 436.8L689.8 439.4L693.4 441.7L697.2 444.6L701.2 448.1L705.2 452.3L709.4 457.2L712.6 461.4L718.9 471.1L725.2 482.4L732.3 497.4L738.1 511.2L748.9 539.1L753.0 548.2L755.3 552.4L757.3 555.1L759.6 557.1L761.5 557.7L762.4 557.6L763.4 557.2L765.2 555.5L767.1 552.7L769.3 548.3L773.2 538.2L784.8 504.5L791.6 487.0L795.6 477.7L799.8 469.2L804.0 461.5L808.3 454.7L812.5 448.7L817.7 442.4L822.7 437.3L828.4 432.6L833.6 429.3L838.3 427.2L843.6 425.6L849.1 424.8L855.5 425.1L862.4 426.4L869.0 428.7L875.5 431.8L881.5 435.6L888.8 441.0L895.2 446.4L910.3 460.1L917.4 465.6L921.3 468.0L925.2 469.9L928.8 470.9L932.2 471.2L935.4 470.9L938.8 470.0L942.7 468.3L946.5 466.0L953.4 460.6L969.5 446.0L976.9 439.7L984.2 434.5L992.0 430.0L995.6 428.4L999.7 426.9L1003.4 425.9L1007.7 425.1L1011.7 424.8L1015.7 424.9L1020.2 425.3L1024.5 426.0L1030.5 427.6L1036.6 429.8L1042.3 432.5L1048.2 435.9L1054.5 440.1L1061.9 445.8L1069.3 452.1L1085.2 466.4L1092.9 472.5L1097.5 475.3L1101.4 477.1L1105.5 478.3L1109.6 478.7L1112.9 478.4L1116.4 477.3L1120.3 475.3L1124.0 472.7L1130.9 466.7L1146.9 450.4L1154.3 443.4L1162.7 436.6L1170.7 431.5L1174.4 429.6L1178.7 427.8L1183.4 426.3L1187.4 425.4L1191.4 424.9L1195.7 424.8L1200.0 425.2L1203.9 425.9L1208.0 427.1L1212.7 429.1L1217.1 431.5L1220.8 433.9L1224.7 436.9L1228.7 440.5L1232.8 444.6L1237.0 449.4L1244.4 459.3L1248.6 465.8L1252.7 472.7L1259.7 485.7L1272.1 510.2L1277.2 519.0L1279.7 522.5L1282.4 525.3L1284.9 527.0L1287.5 527.6L1290.1 527.2L1293.0 525.9L1296.2 523.3L1299.4 519.7L1305.4 511.2L1320.9 485.8L1330.2 472.0L1335.4 465.0L1339.7 459.9L1344.9 454.3L1350.1 449.4L1355.2 445.4L1361.0 441.5L1366.4 438.6L1372.1 436.2L1377.7 434.6L1383.5 433.8L1389.3 433.6L1395.3 434.2L1399.7 435.2L1404.1 436.6L1409.1 438.6L1413.5 441.0L1418.3 444.0L1422.3 446.9L1427.4 451.2L1431.5 455.2L1435.8 459.7L1440.0 464.7L1448.4 476.0L1456.5 488.5L1471.1 512.7L1477.1 521.5L1480.3 525.3L1483.6 528.1L1486.5 529.6L1489.3 530.1L1492.0 529.5L1494.5 527.8L1497.1 525.0L1499.6 521.5L1504.7 512.7L1519.0 484.2L1527.1 469.5L1532.4 461.2L1536.6 455.2L1540.8 449.8L1546.1 443.9L1551.2 438.9L1557.1 434.2L1562.6 430.7L1567.7 428.2L1572.9 426.4L1578.7 425.1L1584.3 424.8L1589.6 425.3L1595.8 427.0L1601.2 429.4L1606.5 432.6L1612.2 437.2L1617.2 442.2L1622.3 448.3L1627.6 455.8L1631.8 462.7L1636.1 470.6L1640.2 479.3L1644.3 488.9L1648.3 499.2L1653.9 515.8L1665.0 553.0L1669.3 565.5L1670.8 568.9L1672.5 571.9L1674.1 573.5L1675.5 574.0L1677.6 573.5L1679.9 571.8L1682.0 569.2L1684.5 565.0L1690.0 553.1L1705.0 516.2L1712.4 500.0L1717.3 490.4L1722.4 481.5L1727.5 473.3L1733.8 464.5L1740.1 456.7L1746.4 449.9L1752.6 444.2L1759.7 438.7L1766.4 434.4L1773.7 430.7L1781.0 427.9L1788.6 425.9L1796.2 424.9L1803.7 424.9L1812.3 425.7L1820.5 427.3L1828.0 429.5L1835.1 432.0L1858.1 441.7L1865.7 444.6L1874.0 447.1L1881.1 448.3L1888.1 448.6L1898.2 448.1L1907.4 447.2L1931.3 444.0L1939.2 443.3L1946.5 443.0L1955.5 443.1L1964.8 443.7L1973.7 444.8L1983.4 446.4L1992.4 448.4L2001.0 450.7L2009.9 453.6L2019.2 456.9L2036.0 463.9L2070.0 479.4L2083.9 484.8L2091.4 487.1L2098.5 488.7L2105.6 489.7L2112.4 490.0"/>
<path stroke="#2210ec" stroke-width="5.5" stroke-dasharray="26 9 6 9" stroke-dashoffset="799.0" d="M489.5 709.5L490.1 706.0L490.7 697.3L494.1 624.6L497.0 580.6L500.5 544.0L502.3 528.5L505.3 508.3L508.4 491.4L511.6 477.5L514.8 466.2L519.0 454.7L523.0 446.7L526.7 441.4L529.1 439.0L531.2 437.5L533.5 436.5L535.3 436.1L538.9 436.4L542.3 437.5L545.9 439.7L549.2 442.5L552.9 446.6L555.8 450.7L558.8 455.8L562.0 462.1L565.1 469.6L567.3 475.3L570.4 485.1L572.5 492.6L575.6 505.2L577.7 514.7L581.5 536.5L585.1 562.6L587.6 585.7L589.8 612.5L591.8 643.7L593.5 680.4L594.5 708.4L595.7 755.2L597.1 821.5L597.6 831.1L597.9 828.0L598.2 819.9L600.2 748.1L601.4 713.2L602.9 681.6L605.1 644.9L607.8 613.7L610.7 586.8L614.0 563.7L618.4 538.9L623.2 518.0L626.1 507.0L629.2 497.2L632.3 488.3L635.5 480.4L638.7 473.3L642.9 465.1L646.1 459.7L650.3 453.7L654.3 448.7L659.1 443.9L663.6 440.3L667.7 437.8L672.0 436.0L677.0 434.7L682.0 434.5L686.8 435.1L692.0 436.7L696.7 439.1L702.0 442.9L706.8 447.3L711.8 453.0L716.0 458.6L720.2 465.1L724.4 472.7L728.6 481.2L732.7 490.6L738.6 505.8L750.5 540.5L754.5 550.5L756.2 553.9L758.1 556.8L760.0 558.5L761.6 559.0L762.5 558.9L763.5 558.4L765.4 556.6L767.4 553.7L769.7 549.0L773.8 538.6L786.8 502.2L791.8 490.0L795.9 480.9L800.1 472.6L804.4 465.3L808.6 458.8L812.8 453.2L818.9 446.5L824.6 441.5L829.9 438.0L836.0 435.3L839.2 434.4L842.3 433.8L845.4 433.6L848.2 433.7L850.7 434.0L853.6 434.8L856.3 435.8L859.4 437.4L863.6 440.3L867.3 443.5L871.2 447.6L874.3 451.3L878.4 457.3L881.6 462.5L884.8 468.4L887.9 475.0L893.2 487.5L899.2 504.7L903.9 520.4L912.9 553.3L916.1 563.9L917.7 568.2L919.5 571.8L920.9 573.4L922.4 574.0L923.9 573.5L925.6 571.7L927.3 568.6L928.9 565.0L931.9 556.3L941.9 522.4L948.4 502.6L955.3 484.6L961.5 471.1L965.8 463.3L970.0 456.4L974.2 450.4L978.3 445.3L982.3 441.0L987.2 436.7L991.7 433.5L995.9 431.1L1001.1 429.0L1005.8 427.8L1010.6 427.3L1016.3 427.6L1022.0 428.5L1027.9 430.2L1033.8 432.6L1039.4 435.5L1044.3 438.6L1049.4 442.4L1053.6 445.9L1058.9 450.7L1068.4 460.7L1085.9 480.9L1093.3 488.3L1096.8 491.1L1100.5 493.3L1103.9 494.5L1107.3 495.0L1110.7 494.7L1114.5 493.4L1118.3 491.3L1122.0 488.5L1128.6 482.1L1145.4 463.6L1152.7 456.1L1161.2 448.6L1165.3 445.4L1170.3 442.1L1175.0 439.4L1179.4 437.4L1184.3 435.6L1189.1 434.4L1193.9 433.8L1198.5 433.6L1202.8 434.0L1206.6 434.8L1212.3 436.9L1218.1 440.1L1223.6 444.3L1228.5 449.0L1233.6 454.9L1238.9 462.1L1244.2 470.8L1248.4 478.9L1252.6 488.0L1255.7 495.5L1261.7 512.3L1265.4 524.5L1269.0 537.5L1279.6 581.1L1282.5 591.9L1283.9 596.4L1285.6 600.2L1286.9 602.1L1287.6 602.6L1288.3 602.9L1289.7 602.4L1291.1 600.8L1292.7 598.0L1294.5 593.3L1297.9 582.5L1308.1 544.8L1314.2 524.7L1320.9 506.1L1324.9 496.4L1329.0 487.6L1333.2 479.5L1338.4 470.6L1342.6 464.3L1347.9 457.5L1353.0 451.8L1358.1 447.1L1363.8 442.6L1369.2 439.3L1372.5 437.6L1376.4 436.1L1379.8 435.0L1383.9 434.1L1387.8 433.7L1391.4 433.6L1394.9 433.8L1398.6 434.5L1401.8 435.4L1405.4 436.8L1408.7 438.4L1412.2 440.4L1418.7 445.3L1422.7 449.0L1425.7 452.2L1430.9 458.5L1436.2 466.1L1441.5 474.8L1445.7 482.7L1450.8 493.6L1456.7 508.0L1461.3 520.4L1471.0 548.2L1474.3 556.6L1476.6 561.5L1479.0 565.3L1480.9 567.1L1481.9 567.6L1482.9 567.8L1484.8 567.3L1487.0 565.5L1488.9 563.1L1491.1 559.4L1493.6 554.3L1496.4 547.8L1510.0 513.6L1516.9 498.3L1522.1 488.2L1526.2 480.9L1531.5 472.6L1536.8 465.5L1542.1 459.4L1548.2 453.4L1554.0 448.8L1560.3 445.0L1566.7 442.2L1573.1 440.5L1579.8 439.9L1585.4 440.4L1588.3 441.1L1591.7 442.3L1594.7 443.9L1598.1 446.0L1603.5 450.4L1609.4 456.7L1614.6 463.6L1619.8 472.2L1625.1 482.7L1629.3 492.5L1633.4 503.7L1636.4 513.0L1640.3 526.7L1643.1 537.8L1646.6 553.7L1649.9 570.6L1659.4 625.3L1660.7 630.9L1661.8 634.2L1662.8 636.2L1663.7 636.7L1664.7 636.1L1665.7 634.3L1666.7 631.3L1667.9 626.5L1669.9 616.9L1676.2 581.6L1680.0 561.9L1684.2 542.9L1687.8 528.7L1691.6 515.7L1696.5 501.0L1700.6 490.6L1705.8 479.2L1712.1 467.7L1718.4 458.4L1721.5 454.5L1725.5 450.0L1729.4 446.3L1733.2 443.2L1736.7 440.8L1740.9 438.5L1744.6 437.0L1748.5 435.8L1752.1 435.1L1755.9 434.8L1760.0 435.0L1763.8 435.6L1767.5 436.5L1771.8 438.1L1775.9 440.0L1780.2 442.7L1783.9 445.4L1787.8 448.8L1791.8 452.7L1794.9 456.2L1799.1 461.5L1802.2 466.0L1808.6 476.5L1814.9 489.3L1820.0 501.7L1825.0 516.0L1828.8 528.7L1832.5 542.8L1836.0 558.2L1839.2 574.8L1843.0 597.0L1852.2 662.9L1853.8 670.3L1854.7 672.5L1855.5 673.1L1856.3 672.4L1857.2 669.9L1859.0 661.5L1868.2 596.3L1872.0 573.6L1875.4 556.7L1879.0 541.3L1883.8 523.9L1887.8 511.7L1892.9 498.2L1896.1 491.0L1899.2 484.5L1905.6 473.4L1908.7 468.7L1912.9 463.3L1915.9 459.8L1919.9 455.8L1923.7 452.6L1927.3 450.0L1931.5 447.6L1935.3 445.9L1939.2 444.6L1943.3 443.9L1947.4 443.6L1951.8 443.9L1957.9 445.2L1964.6 447.7L1970.6 451.2L1977.3 456.2L1983.3 462.1L1989.5 469.6L1994.8 477.1L2000.1 486.0L2004.3 494.1L2008.5 503.1L2012.5 512.9L2015.5 520.8L2019.3 531.9L2023.8 546.7L2035.1 588.7L2038.0 598.3L2039.9 603.6L2041.6 606.8L2043.1 608.6L2044.5 609.1"/>
<path stroke="#000000" stroke-width="2.5" d="M489.5 759.6L490.1 750.3L493.0 654.2L494.2 625.5L495.6 599.8L497.1 577.0L498.8 556.8L500.6 539.0L503.4 515.9L506.5 496.7L509.6 480.9L512.8 468.0L517.1 454.8L521.2 445.4L523.1 441.9L525.8 438.0L528.3 435.4L530.4 433.8L532.7 432.7L534.5 432.4L537.2 432.5L540.0 433.1L542.5 434.0L545.3 435.5L547.8 437.3L550.4 439.6L553.1 442.6L556.1 446.3L561.1 454.5L566.4 465.5L570.7 476.6L574.9 489.9L579.0 505.8L581.9 519.5L584.7 534.8L587.4 551.8L589.9 570.4L592.2 590.3L598.8 660.0L599.8 666.5L600.2 668.4L600.9 669.3L601.6 668.5L602.3 665.8L603.7 657.1L610.4 596.8L613.3 574.0L615.8 557.9L618.4 542.9L622.0 524.8L625.0 512.6L629.0 498.2L633.1 485.6L637.4 474.8L642.7 463.5L647.9 454.5L651.0 450.1L654.0 446.4L656.9 443.2L659.7 440.7L662.4 438.6L665.7 436.4L668.6 435.0L671.8 433.8L676.0 433.1L680.7 433.1L685.5 433.8L690.2 435.2L695.0 437.3L699.4 439.9L704.2 443.4L708.2 446.9L712.3 451.1L716.5 455.9L720.7 461.4L724.9 467.5L732.1 479.2L746.1 503.9L751.5 512.2L754.2 515.5L756.5 517.7L758.8 519.3L761.3 520.1L764.0 519.9L767.0 518.8L770.0 516.7L772.7 514.0L778.4 507.0L793.1 485.6L800.5 475.9L804.7 471.1L808.8 467.0L812.8 463.5L816.6 460.7L821.1 458.1L825.0 456.3L829.7 455.0L834.1 454.4L838.6 454.5L843.1 455.4L847.1 456.7L851.8 458.9L855.3 461.1L859.0 464.0L862.8 467.5L865.9 470.7L870.0 475.7L873.1 480.0L879.5 490.1L885.8 502.2L891.8 515.9L897.6 530.7L906.9 555.9L911.0 565.9L913.3 570.3L915.3 573.0L917.2 574.7L919.1 575.3L920.8 574.7L922.5 573.0L924.3 570.2L926.4 565.7L930.1 555.5L941.3 520.9L947.0 505.2L953.9 488.3L957.0 481.8L961.2 473.7L965.5 466.5L969.7 460.1L973.9 454.5L978.0 449.7L982.1 445.6L986.9 441.5L991.5 438.3L995.8 435.9L1001.1 433.7L1007.2 432.2L1013.1 431.7L1019.2 432.2L1024.8 433.6L1031.1 436.1L1037.3 439.6L1043.1 443.9L1048.2 448.4L1053.4 453.9L1058.7 460.2L1064.0 467.5L1072.2 480.4L1087.9 507.6L1091.1 512.6L1093.9 516.5L1096.5 519.5L1099.2 521.9L1101.7 523.3L1104.5 523.9L1107.1 523.4L1110.1 521.9L1112.9 519.6L1116.2 515.9L1121.5 508.4L1137.1 482.8L1145.4 470.5L1150.6 463.5L1154.9 458.5L1159.1 454.0L1164.2 449.2L1169.2 445.2L1174.8 441.5L1180.1 438.8L1185.5 436.7L1191.2 435.4L1196.4 434.9L1201.7 435.0L1206.9 436.0L1212.5 438.0L1218.3 441.1L1223.8 444.9L1229.6 450.3L1234.7 455.9L1239.9 462.9L1245.2 471.1L1250.5 480.9L1254.7 489.8L1257.7 497.0L1261.7 507.6L1264.6 516.1L1268.4 528.1L1271.9 540.8L1282.4 583.2L1285.3 593.9L1286.8 598.4L1288.5 602.4L1290.0 604.7L1290.7 605.2L1291.5 605.4L1292.9 604.8L1294.5 603.0L1296.1 599.8L1298.1 594.5L1301.0 584.8L1312.5 542.8L1317.1 528.2L1321.9 514.5L1325.9 504.5L1331.0 493.1L1335.2 485.0L1340.5 476.1L1346.8 467.2L1353.0 460.1L1356.0 457.2L1359.8 453.9L1366.2 449.5L1369.6 447.7L1373.4 446.0L1376.8 444.9L1380.8 444.1L1384.4 443.7L1387.9 443.7L1391.4 444.0L1394.7 444.8L1398.1 446.0L1401.9 447.9L1405.2 450.0L1408.8 452.7L1412.6 456.1L1415.5 459.2L1419.6 464.1L1422.7 468.5L1425.8 473.4L1429.0 478.9L1434.3 489.7L1439.5 502.5L1444.5 517.7L1448.5 531.6L1452.2 547.2L1455.7 564.7L1459.0 584.2L1462.0 605.7L1464.8 628.8L1471.6 698.8L1472.7 705.9L1473.3 707.7L1473.7 708.2L1474.3 707.6L1474.8 705.9L1476.2 697.6L1483.4 629.5L1486.0 608.6L1488.2 593.7L1490.5 579.7L1493.7 562.3L1496.3 550.4L1499.9 535.7L1503.7 522.4L1508.7 507.7L1513.8 494.8L1519.0 483.7L1524.3 474.1L1530.6 464.5L1536.9 456.7L1542.9 450.6L1547.7 446.6L1552.3 443.5L1557.3 440.8L1562.6 438.7L1568.1 437.3L1573.3 436.7L1578.0 436.9L1583.1 437.9L1587.9 439.6L1592.7 442.1L1597.1 445.2L1601.8 449.3L1605.8 453.5L1609.9 458.6L1614.1 464.6L1618.3 471.7L1621.5 477.8L1624.6 484.5L1627.8 491.9L1630.9 500.0L1633.9 509.0L1636.9 518.7L1641.6 536.8L1646.0 557.2L1650.1 579.9L1653.7 603.9L1658.9 643.5L1660.7 655.3L1662.3 663.1L1663.1 664.9L1663.9 665.6L1664.6 665.0L1665.6 662.6L1667.3 654.5L1674.4 604.8L1677.2 586.2L1681.2 564.0L1684.6 547.6L1689.2 528.9L1694.0 512.5L1699.1 498.2L1704.3 485.8L1710.6 473.3L1713.8 468.0L1718.0 461.8L1722.2 456.5L1726.2 452.0L1730.1 448.4L1733.8 445.4L1738.2 442.5L1742.3 440.5L1746.5 438.9L1751.1 437.8L1755.4 437.4L1760.0 437.5L1764.4 438.2L1768.9 439.6L1774.3 441.9L1779.4 444.9L1785.0 449.2L1789.9 453.8L1795.0 459.6L1799.1 465.1L1804.4 473.3L1808.6 480.9L1812.8 489.6L1817.0 499.4L1821.0 510.5L1824.0 519.7L1827.8 533.2L1830.6 544.5L1833.3 556.8L1835.8 570.2L1839.8 595.5L1843.4 625.1L1846.5 660.3L1848.7 693.8L1850.5 733.6L1852.0 781.4L1852.9 823.2L1854.1 900.4L1854.6 913.2L1854.9 905.5L1857.0 786.4L1858.9 724.6L1860.4 694.1L1862.6 659.3L1864.5 636.7L1867.4 610.3L1870.4 587.3L1874.7 562.5L1878.3 545.3L1883.1 526.7L1888.1 510.7L1893.3 497.2L1896.4 490.0L1899.6 483.6L1902.8 477.9L1906.0 472.7L1910.2 466.8L1914.3 461.8L1918.2 457.6L1923.0 453.5L1927.4 450.4L1932.2 447.9L1937.1 446.1L1942.2 445.1L1947.4 444.9L1952.6 445.5L1958.1 446.8L1963.4 448.9L1968.5 451.6L1973.1 454.7L1977.9 458.6L1983.0 463.5L1987.1 468.1L1991.3 473.5L1995.5 479.7L1998.7 484.9L2002.9 492.5L2006.1 498.8L2012.2 512.8L2018.1 528.7L2024.5 549.4L2029.5 568.2L2037.8 602.0L2040.5 611.7L2041.9 615.7L2043.5 619.1L2045.0 621.1L2046.3 621.7"/>
<path stroke="#e20ea6" stroke-width="5.0" d="M203.7 32.3L210.9 32.5L218.0 33.0L225.2 33.9L231.6 35.0L238.8 36.5L245.2 38.2L252.4 40.4L258.8 42.8L266.0 45.7L272.5 48.6L285.3 55.4L292.5 59.8L299.0 64.0L311.8 73.5L324.7 84.3L336.9 95.9L349.1 109.0L361.3 123.5L372.7 138.8L383.5 154.6L394.2 172.0L404.2 190.1L412.8 207.1L421.4 225.9L429.3 244.9L436.5 264.0L442.9 283.1L449.4 304.5L455.1 325.9L460.1 347.2L464.4 367.8L468.0 387.3L471.6 409.5L474.4 429.8L477.3 453.2L480.1 480.4L487.3 561.5L488.0 566.9L488.7 570.3L489.5 571.5"/>
<path stroke="#57b5e6" stroke-width="5.5" stroke-dasharray="26 7.5 13 7.5" d="M203.7 32.3L210.9 32.5L218.0 33.0L225.2 33.9L232.3 35.1L239.5 36.7L246.7 38.6L253.8 40.9L260.3 43.3L267.4 46.3L274.6 49.7L281.8 53.4L288.2 57.1L295.4 61.6L301.8 66.0L314.7 75.8L327.6 87.0L340.5 99.6L352.7 113.1L364.8 128.1L376.3 143.9L387.8 161.4L398.5 179.6L408.5 198.4L417.1 216.3L425.7 236.1L432.9 254.3L440.0 274.5L446.5 294.8L452.9 317.8L457.9 338.0L463.0 361.0L466.5 379.8L470.1 401.1L473.7 425.9L476.6 449.1L479.4 476.6L481.6 501.0L487.3 581.5L488.7 594.7L489.5 596.6"/>
<path stroke="#2210ec" stroke-width="5.5" stroke-dasharray="26 9 6 9" d="M203.7 32.3L210.9 32.5L218.0 33.0L225.2 33.9L232.3 35.1L239.5 36.7L246.7 38.6L253.8 40.9L260.3 43.3L267.4 46.3L274.6 49.7L281.8 53.4L288.2 57.1L295.4 61.6L301.8 66.0L314.7 75.8L327.6 87.0L340.5 99.6L352.7 113.1L364.8 128.1L376.3 143.9L387.8 161.4L398.5 179.6L408.5 198.4L417.1 216.3L425.7 236.1L432.9 254.3L440.0 274.5L446.5 294.8L452.9 317.8L457.9 338.0L463.0 361.0L466.5 379.8L470.1 401.1L473.7 425.9L476.6 449.1L479.4 476.6L481.6 501.0L487.3 581.5L488.7 594.7L489.5 596.6"/>
<path stroke="#2210ec" stroke-width="5.5" stroke-dasharray="26 9 6 9" d="M203.7 32.3L211.6 32.5L219.5 33.1L227.3 34.2L235.2 35.7L243.1 37.6L251.0 40.0L258.8 42.8L266.0 45.7L273.9 49.3L281.0 53.0L288.9 57.6L296.1 62.1L304.0 67.5L311.1 72.9L318.3 78.7L325.5 85.0L332.6 91.7L339.8 98.9L346.9 106.6L353.4 113.9L366.3 130.0L372.7 138.8L379.2 148.1L391.3 167.2L402.8 187.4L413.5 208.7L423.6 231.0L431.4 250.6L439.3 272.5L446.5 295.0L452.9 318.1L458.7 341.5L463.7 365.3L468.0 389.0L472.3 417.2L475.8 445.9L478.7 474.1L480.9 500.0L483.0 532.5L484.4 559.8L485.9 594.5L488.7 696.2L489.5 709.5"/>
<path stroke="#e30000" stroke-width="2.0" stroke-dasharray="32 20" d="M203.7 32.3L211.6 32.5L219.5 33.1L227.3 34.2L235.2 35.7L243.1 37.6L251.0 40.0L258.8 42.8L266.0 45.7L273.9 49.3L281.8 53.4L289.6 58.0L296.8 62.6L304.7 68.1L311.8 73.5L319.0 79.3L326.2 85.6L333.3 92.4L340.5 99.6L347.7 107.4L354.1 114.8L361.3 123.5L367.7 131.9L374.2 140.8L380.6 150.2L392.8 169.6L404.2 190.1L415.0 211.7L425.0 234.4L432.9 254.4L440.8 276.8L447.2 297.4L453.6 320.8L459.4 344.7L464.4 369.0L468.7 393.4L473.0 422.5L475.8 445.9L478.7 474.2L480.9 500.2L483.0 532.9L484.4 560.5L485.9 595.8L487.3 643.8L488.7 705.8L489.5 722.0"/>
<path stroke="#77ac30" stroke-width="2.0" d="M203.7 32.3L211.6 32.5L218.7 33.1L226.6 34.1L233.8 35.4L241.7 37.2L248.8 39.3L256.7 42.0L263.9 44.8L271.7 48.3L278.9 51.9L286.1 55.9L293.2 60.2L300.4 65.0L307.5 70.2L314.7 75.8L321.2 81.2L328.3 87.6L334.8 93.8L341.9 101.1L348.4 108.2L361.3 123.5L373.4 139.8L385.6 157.9L397.1 177.1L407.8 197.1L417.8 217.9L426.4 237.9L434.3 258.2L441.5 278.9L447.9 299.8L453.6 320.7L459.4 344.6L464.4 368.8L468.7 393.1L472.3 416.8L475.8 445.2L478.7 473.0L480.9 498.3L483.0 529.4L484.4 554.8L488.0 639.3L488.7 653.6L489.5 659.3"/>
<path stroke="#2a78b4" stroke-width="2.2" d="M203.7 32.3L211.6 32.5L218.7 33.1L226.6 34.1L233.8 35.4L241.7 37.2L248.8 39.3L256.7 42.0L263.9 44.8L271.7 48.3L278.9 51.9L286.1 55.9L293.2 60.2L300.4 65.0L307.5 70.2L314.7 75.8L321.2 81.2L328.3 87.6L334.8 93.8L341.9 101.1L348.4 108.2L361.3 123.5L373.4 139.8L385.6 157.9L397.1 177.1L407.8 197.1L417.8 217.9L426.4 237.9L434.3 258.2L441.5 278.9L447.9 299.8L453.6 320.7L459.4 344.6L464.4 368.8L468.7 393.1L472.3 416.8L475.8 445.2L478.7 473.0L480.9 498.3L483.0 529.4L484.4 554.8L488.0 639.3L488.7 653.6L489.5 659.3"/>
<path stroke="#000000" stroke-width="2.5" d="M203.7 32.3L212.3 32.6L220.2 33.2L228.1 34.3L235.9 35.9L244.5 38.0L252.4 40.4L260.3 43.3L268.2 46.6L276.0 50.4L283.9 54.6L291.8 59.3L299.7 64.5L307.5 70.2L314.7 75.8L322.6 82.4L329.7 89.0L336.9 96.0L344.1 103.4L351.2 111.4L358.4 120.0L365.6 129.1L372.0 137.8L378.4 147.0L384.9 156.8L391.3 167.2L397.1 177.1L408.5 198.5L419.3 221.1L429.3 245.0L437.2 266.3L444.3 288.0L450.8 310.0L457.2 335.4L462.2 358.2L467.3 384.9L471.6 412.2L475.1 439.9L478.0 466.8L480.9 500.7L483.0 533.8L484.4 562.0L486.6 622.0L489.5 759.6"/>
<path stroke="#e30000" stroke-width="6.5" stroke-dasharray="6.8 6.8" d="M203.7 32.3L215.2 32.7L226.6 34.1L238.1 36.3L249.5 39.5L261.0 43.6L271.7 48.2L283.2 54.2L293.9 60.6L304.7 68.0L315.4 76.3L326.2 85.6L336.9 95.9L346.9 106.5L357.0 118.1L367.0 130.8L376.3 143.7L384.9 156.6L392.8 169.3L400.6 183.0L407.8 196.5L415.0 211.0L422.1 226.6L428.6 241.9L435.0 258.4L440.8 274.4L446.5 291.7L451.5 308.1L456.5 325.9L464.4 357.0L477.3 414.1L481.6 430.8L483.7 437.3L485.9 441.9L487.3 443.8L488.0 444.4L489.5 444.9"/>
<path stroke="#e30000" stroke-width="5.5" stroke-dasharray="33 21" d="M203.7 32.3L215.9 32.8L227.4 34.2L239.6 36.7L251.0 39.9L262.5 44.1L274.0 49.3L285.4 55.4L296.9 62.5L308.4 70.7L319.2 79.3L329.9 88.9L340.7 99.6L351.4 111.3L361.5 123.4L371.5 136.6L380.8 150.0L389.4 163.5L397.3 176.8L405.2 191.1L413.1 206.7L420.3 222.1L426.7 237.0L433.2 253.2L439.6 270.9L445.4 288.0L450.4 304.4L455.4 322.2L460.4 341.8L467.6 373.2L479.8 434.0L483.4 449.6L485.5 456.6L487.0 459.8L488.4 461.8L489.8 462.4"/>
</g>
</g>
<g stroke="#262626" stroke-width="2.6" fill="none">
<rect x="203.7" y="32.3" width="1835.3" height="1003.2"/>
<path id="ticks" d="M387.2 1035.5v-20M387.2 32.3v20M570.8 1035.5v-20M570.8 32.3v20M754.3 1035.5v-20M754.3 32.3v20M937.8 1035.5v-20M937.8 32.3v20M1121.3 1035.5v-20M1121.3 32.3v20M1304.9 1035.5v-20M1304.9 32.3v20M1488.4 1035.5v-20M1488.4 32.3v20M1671.9 1035.5v-20M1671.9 32.3v20M1855.5 1035.5v-20M1855.5 32.3v20M203.7 157.7h20M2039.0 157.7h-20M203.7 283.1h20M2039.0 283.1h-20M203.7 408.5h20M2039.0 408.5h-20M203.7 533.9h20M2039.0 533.9h-20M203.7 659.3h20M2039.0 659.3h-20M203.7 784.7h20M2039.0 784.7h-20M203.7 910.1h20M2039.0 910.1h-20"/>
</g>
<g font-size="56" text-anchor="end">
<text x="177.0" y="53.0">0</text>
<text x="177.0" y="178.4">-10</text>
<text x="177.0" y="303.8">-20</text>
<text x="177.0" y="429.2">-30</text>
<text x="177.0" y="554.6">-40</text>
<text x="177.0" y="680.0">-50</text>
<text x="177.0" y="805.4">-60</text>
<text x="177.0" y="930.8">-70</text>
<text x="177.0" y="1056.2">-80</text>
</g>
<g font-size="56">
<text x="186.8" y="1112.5">0</text>
<text x="346.8 378.0 395.5" y="1112.5">0.1</text>
<text x="530.4 561.6 580.5" y="1112.5">0.2</text>
<text x="713.9 745.1 764.0" y="1112.5">0.3</text>
<text x="897.4 928.6 947.5" y="1112.5">0.4</text>
<text x="1080.9 1112.1 1131.0" y="1112.5">0.5</text>
<text x="1264.5 1295.7 1314.6" y="1112.5">0.6</text>
<text x="1448.0 1479.2 1498.1" y="1112.5">0.7</text>
<text x="1631.5 1662.7 1681.6" y="1112.5">0.8</text>
<text x="1815.1 1846.3 1865.2" y="1112.5">0.9</text>
<text x="2023.9" y="1112.5">1</text>
</g>
<text x="608.2" y="1192.2" font-size="57.5" textLength="1030.5" lengthAdjust="spacingAndGlyphs">Normalized Frequency(<tspan font-family="'Liberation Serif', serif" font-style="italic">π</tspan> rad/sample)</text>
<text transform="translate(61.8 534.65) rotate(-90)" font-size="62" text-anchor="middle" textLength="581" lengthAdjust="spacingAndGlyphs">Normalized Gain (dB)</text>
</svg>
</body></html>
